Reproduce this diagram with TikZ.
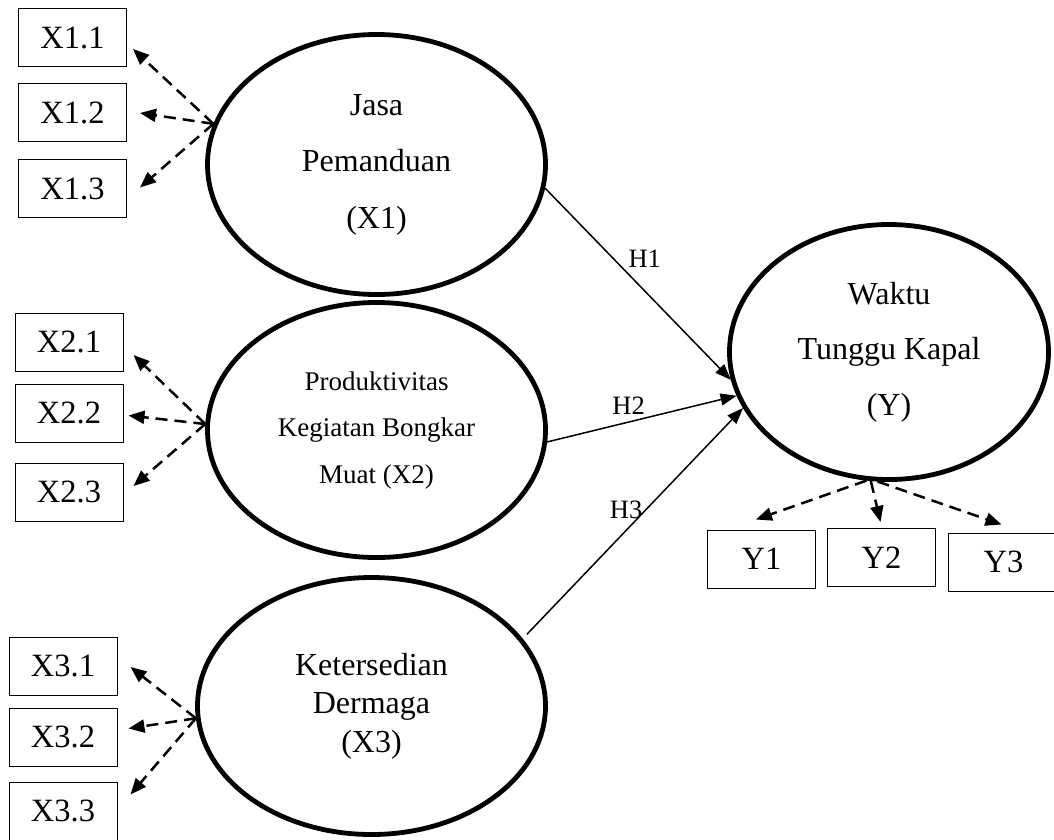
\documentclass[tikz,border=0pt]{standalone}
\usepackage{fontspec}
\setmainfont{Liberation Serif}
\usetikzlibrary{shapes.geometric, arrows.meta, positioning}

\begin{document}
\begin{tikzpicture}[
    x=1pt, y=-1pt,
    latent/.style={
      ellipse, draw, line width=4.8pt,
      inner sep=0pt, align=center
    },
    indbox/.style={
      rectangle, draw, line width=1pt,
      minimum width=108pt, minimum height=58pt,
      inner sep=0pt, font=\fontsize{32.5}{36}\selectfont
    },
    dasharr/.style={-{Triangle[length=16pt, width=13pt]}, line width=2.5pt,
                    dash pattern=on 12pt off 7pt},
    patharr/.style={-{Triangle[length=16pt, width=12pt]}, line width=1.5pt},
    hlab/.style={font=\fontsize{26.5}{30}\selectfont, inner sep=5pt}
  ]

    \clip (0,0) rectangle (1054,839);

    % Latent variables
    \node[latent, minimum width=338pt, minimum height=260pt,
          font=\fontsize{32}{56.5}\selectfont] (jasa) at (376.5,164.5)
          {Jasa\\Pemanduan\\(X1)};
    \node[latent, minimum width=338pt, minimum height=255pt,
          font=\fontsize{27}{46.5}\selectfont] (prod) at (376.5,430)
          {Produktivitas\\Kegiatan Bongkar\\Muat (X2)};
    \node[latent, minimum width=348pt, minimum height=257pt,
          font=\fontsize{32}{38.5}\selectfont] (derm) at (371.5,706)
          {Ketersedian\\Dermaga\\(X3)};
    \node[latent, minimum width=319pt, minimum height=255pt,
          font=\fontsize{32}{55.5}\selectfont] (wtk) at (889,352)
          {Waktu\\Tunggu Kapal\\(Y)};

    % Indicators X1
    \node[indbox] (x11) at (72.5,37.5) {X1.1};
    \node[indbox, below=16pt of x11] (x12) {X1.2};
    \node[indbox, below=17pt of x12] (x13) {X1.3};

    % Indicators X2
    \node[indbox] (x21) at (69,342) {X2.1};
    \node[indbox, below=12pt of x21] (x22) {X2.2};
    \node[indbox, below=20pt of x22] (x23) {X2.3};

    % Indicators X3
    \node[indbox] (x31) at (63,666) {X3.1};
    \node[indbox, below=12pt of x31] (x32) {X3.2};
    \node[indbox, below=15pt of x32] (x33) {X3.3};

    % Indicators Y
    \node[indbox] (y1) at (761.5,559) {Y1};
    \node[indbox, right=11pt of y1, yshift=1.5pt] (y2) {Y2};
    \node[indbox, right=12pt of y2, yshift=-4.5pt, minimum width=110pt] (y3) {Y3};

    % Loadings
    \draw[dasharr] (jasa.166) -- ([shift={(6,11.5)}]x11.east);
    \draw[dasharr] (jasa.166) -- ([shift={(13,0.5)}]x12.east);
    \draw[dasharr] (jasa.166) -- ([shift={(13,-1)}]x13.east);

    \draw[dasharr] (prod.178) -- ([shift={(10,13)}]x21.east);
    \draw[dasharr] (prod.178) -- ([shift={(5,2.5)}]x22.east);
    \draw[dasharr] (prod.178) -- ([shift={(10,-6)}]x23.east);

    \draw[dasharr] (derm.184) -- ([shift={(13,1)}]x31.east);
    \draw[dasharr] (derm.184) -- ([shift={(11,-8.5)}]x32.east);
    \draw[dasharr] (derm.184) -- ([shift={(13,-16.5)}]x33.east);

    \draw[dasharr] (wtk.260) -- ([shift={(-5.5,-10)}]y1.north);
    \draw[dasharr] (wtk.262) -- ([shift={(-1,-6)}]y2.north);
    \draw[dasharr] (wtk.265) -- ([shift={(-2,-8)}]y3.north);

    % Hypotheses
    \draw[patharr] (jasa.352) -- node[hlab, pos=0.37, right=9pt] (h1) {H1} (wtk.190);
    \draw[patharr] (prod.356) -- node[hlab, pos=0.43, above=2pt] (h2) {H2} (wtk.196);
    \draw[patharr, shorten <=6pt] (derm.24) -- node[hlab, pos=0.56, left=-2pt] (h3) {H3} (wtk.201);

  \end{tikzpicture}
\end{document}
